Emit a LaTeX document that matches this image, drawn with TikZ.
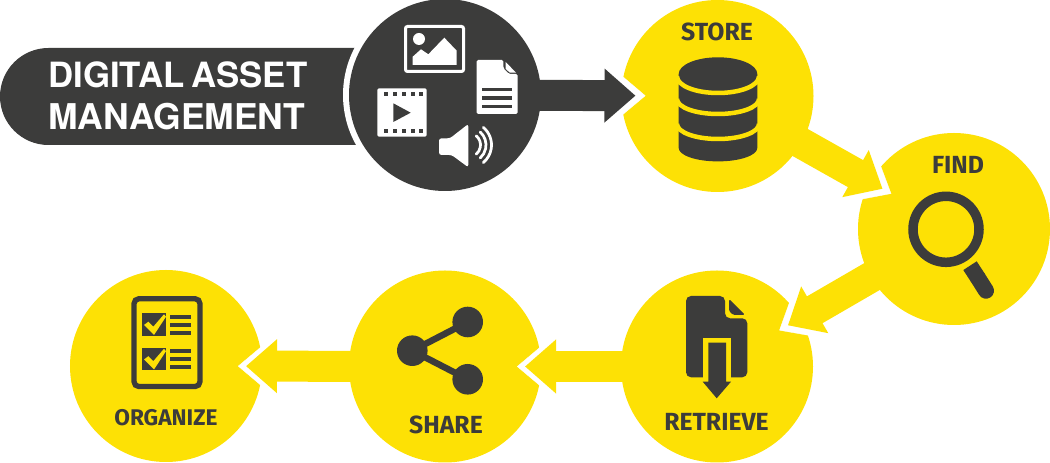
\documentclass[tikz,border=0pt]{standalone}
\usepackage{fontspec}
\setmainfont{Fira Sans}
\newfontfamily\titlefont{TeX Gyre Heros}
\usetikzlibrary{arrows.meta}
\definecolor{damdark}{HTML}{3C3C3B}
\definecolor{damyellow}{HTML}{FDE105}

\begin{document}
\begin{tikzpicture}[x=0.2mm,y=-0.2mm,
    stepcircle/.style={circle,fill=damyellow,minimum size=38.4mm,inner sep=0pt,outer sep=0pt},
    steplabel/.style={text=damdark,inner sep=0pt,font=\bfseries\fontsize{14.1pt}{14.1pt}\selectfont},
    notch/.style={draw=white,line width=0.2pt,shorten >=-4.8mm,-{Triangle[length=8.2mm,width=13.8mm,fill=white]}},
    flow/.style={line width=6.2mm,shorten <=-1mm,shorten >=-2.8mm,-{Triangle[length=6.2mm,width=10.4mm]}},
    flowshort/.style={flow,shorten >=-3.2mm}]
  \useasboundingbox (0,0) rectangle (1050,463);

  \fill[damdark,rounded corners=9.7mm] (0,48) rectangle (420,145);
  \node[stepcircle,fill=white,minimum size=40.8mm] (ring) at (445,95) {};
  \node[stepcircle,fill=damdark] (assets) at (445,95) {};
  \node[stepcircle] (store) at (717.5,96) {};
  \node[stepcircle] (find) at (954,229) {};
  \node[stepcircle] (retrieve) at (717,366.5) {};
  \node[stepcircle] (share) at (445,366.5) {};
  \node[stepcircle] (organize) at (166,366) {};

  \node[align=left,text=white,inner sep=0pt,anchor=west,
    font=\titlefont\bfseries\fontsize{20.2pt}{23.8pt}\selectfont] (title) at (48,96) {{\fontsize{19.8pt}{23.8pt}\selectfont DIGITAL\hspace{-1.7pt} ASSET}\\MANAGEMENT};
  \node[steplabel] (storetext) at (717,32) {STORE};
  \node[steplabel] (findtext) at (958,165) {FIND};
  \node[steplabel] (retrievetext) at (716.5,422) {RETRIEVE};
  \node[steplabel] (sharetext) at (446,425) {SHARE};
  \node[steplabel,font=\bfseries\fontsize{12.9pt}{12.9pt}\selectfont] (organizetext) at (166,418) {ORGANIZE};

  \draw[notch] (assets) -- (store);
  \draw[flow,damdark] (assets) -- (store); % assets -> store
  \draw[notch] (store) -- (find);
  \draw[flow,damyellow] (store) -- (find); % store -> find
  \draw[notch] (find) -- (retrieve);
  \draw[flow,damyellow] (find) -- (retrieve); % find -> retrieve
  \draw[notch] (retrieve) -- (share);
  \draw[flowshort,damyellow] (retrieve) -- (share); % retrieve -> share
  \draw[notch] (share) -- (organize);
  \draw[flowshort,damyellow] (share) -- (organize); % share -> organize

  % picture icon
  \draw[white,line width=0.6mm,rounded corners=0.4mm] (405.5,26.5) rectangle (463.5,71.5);
  \fill[white] (419,39) circle (6);
  \fill[white] (412.7,56.7) -- (421,49.3) -- (428.3,54.3) -- (444.3,37.7) -- (456.7,50.7) -- (456.7,65) -- (412.7,65) -- cycle;
  % document icon
  \fill[white,rounded corners=0.3mm] (476.7,60) -- (503.3,60) -- (503.3,68) -- (509,74) -- (517.7,74) -- (517.7,114) -- (476.7,114) -- cycle;
  \fill[white] (505.7,62) -- (516,72.7) -- (510,72.7) -- (505.7,69) -- cycle;
  \draw[damdark,line width=0.65mm] (482.3,89.3) -- (512,89.3);
  \draw[damdark,line width=0.65mm] (482.3,98) -- (512,98);
  \draw[damdark,line width=0.65mm] (482.3,106.7) -- (512,106.7);
  % film icon
  \fill[white,rounded corners=0.3mm] (377.3,88.3) rectangle (426.7,136.7);
  \foreach \px in {384.3,393.3,402,410.7,419} {
    \fill[damdark] (\px,92) rectangle ++(4,4);
    \fill[damdark] (\px,129.3) rectangle ++(4,4);
  }
  \fill[damdark] (393.3,103.3) -- (410.7,112.7) -- (393.3,122) -- cycle;
  % speaker icon
  \fill[white,rounded corners=0.5mm] (439,138.3) -- (450,138.3) -- (468.3,124) -- (468.3,167.3) -- (451.7,155) -- (439,155) -- cycle;
  \draw[white,line width=0.55mm,line cap=round] (468.5,145) ++(-50:12) arc (-50:50:12);
  \draw[white,line width=0.55mm,line cap=round] (468.5,145) ++(-48:17.5) arc (-48:48:17.5);
  \draw[white,line width=0.55mm,line cap=round] (468.5,145) ++(-50:23) arc (-50:50:23);

  % database icon
  \fill[damdark] (678.7,74) -- (678.7,148) arc (180:0:39.3 and 13.4) -- (757.3,74) arc (0:-180:39.3 and 16.7) -- cycle;
  \draw[damyellow,line width=0.9mm] (677,76.5) arc (180:0:41 and 16.5);
  \draw[damyellow,line width=0.9mm] (677,99) arc (180:0:41 and 15);
  \draw[damyellow,line width=0.9mm] (677,124) arc (180:0:41 and 15);

  % magnifier icon
  \draw[damdark,line width=1.9mm] (946,229.3) circle (33);
  \draw[damdark,line width=3.2mm] (970,265.7) -- (978,278);
  \draw[damdark,line width=3.2mm,line cap=round] (978,278) -- (986,290.7);

  % file with arrow icon
  \fill[damdark,rounded corners=1mm] (686,296) -- (725,296) -- (725,318.3) -- (747.3,318.3) -- (747.3,377.3) -- (686,377.3) -- cycle;
  \fill[damdark,rounded corners=0.3mm] (729,299) -- (745,315) -- (733.3,315) -- (729,311) -- cycle;
  \fill[damyellow] (703.3,338.3) rectangle (730.7,381.7);
  \fill[damdark] (708.3,342.7) -- (726,342.7) -- (726,381.7) -- (731,381.7) -- (716.7,398.3) -- (702.7,381.7) -- (708.3,381.7) -- cycle;

  % share icon
  \draw[damdark,line width=1.3mm] (467.7,322) -- (412.3,350.7) -- (467.7,379.3);
  \fill[damdark] (467.7,322) circle (15.3);
  \fill[damdark] (412.3,350.7) circle (15.3);
  \fill[damdark] (467.7,379.3) circle (15.3);

  % checklist icon
  \draw[damdark,line width=1.06mm,rounded corners=1mm] (134,298.7) rectangle (200,386.6);
  \foreach \py in {0,34.5} {
    \fill[damdark] (142.3,313.3+\py) rectangle (165.7,336+\py);
    \fill[damyellow] (144,325+\py) -- (148.3,321.7+\py) -- (153.3,326.7+\py) -- (164,314.3+\py) -- (166,316.7+\py) -- (154,335+\py) -- cycle;
    \draw[damdark,line width=0.8mm] (170,316.7+\py) -- (191.3,316.7+\py);
    \draw[damdark,line width=0.8mm] (170,324.7+\py) -- (191.3,324.7+\py);
    \draw[damdark,line width=0.8mm] (170,332.7+\py) -- (191.3,332.7+\py);
  }
\end{tikzpicture}
\end{document}
